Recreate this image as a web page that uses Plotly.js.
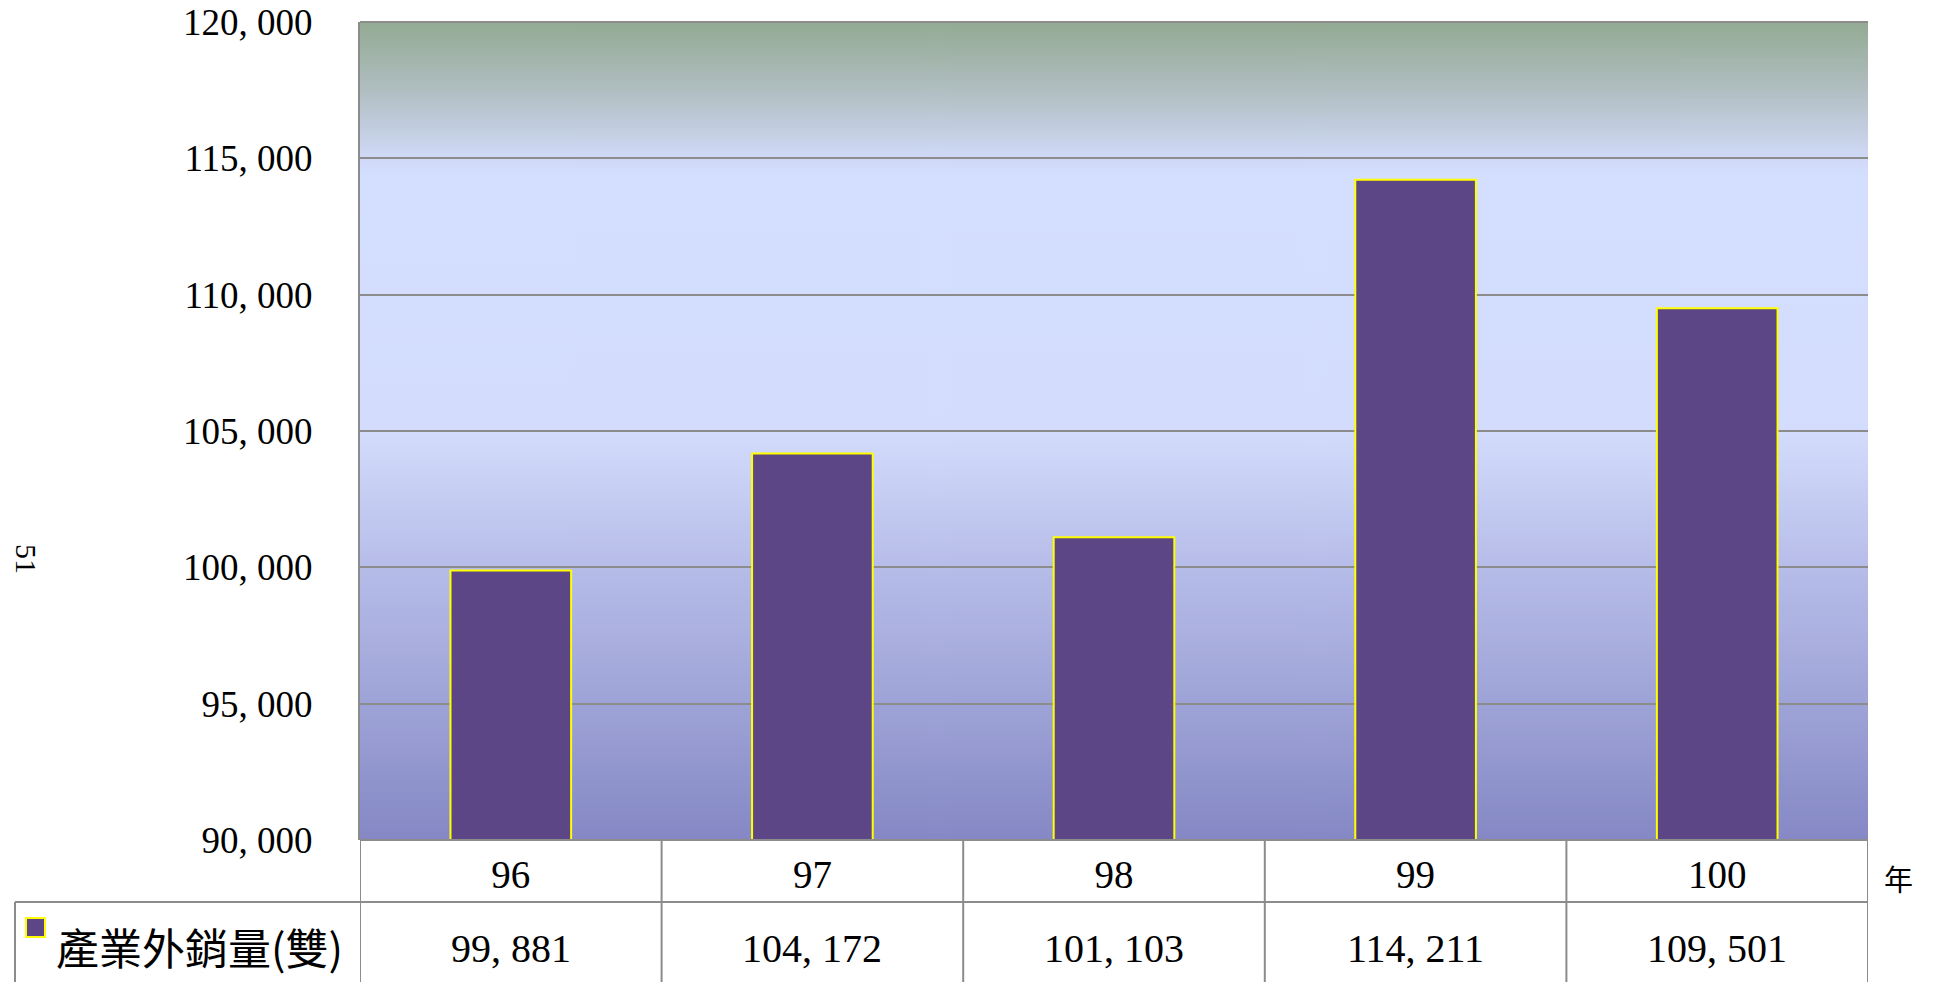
<!DOCTYPE html>
<html>
<head>
<meta charset="utf-8">
<script src="https://cdn.plot.ly/plotly-3.0.1.min.js"></script>
<style>
  html, body { margin: 0; padding: 0; background: #ffffff; }
  #chart { width: 1934px; height: 982px; }
</style>
</head>
<body>
<div id="chart"></div>
<script>
// ---- data ----
const categories = ["96", "97", "98", "99", "100"];
const seriesName = "產業外銷量(雙)";
const exportVolume = [99881, 104172, 101103, 114211, 109501];
const yTickValues = [90000, 95000, 100000, 105000, 110000, 115000, 120000];
const xUnitLabel = "年";
const sideNote = "51";

// ---- helpers ----
function fmt(v) {
  return v.toLocaleString("en-US").replace(/,/g, ", ");
}

// vertical background gradient as an image
function gradientURL() {
  const c = document.createElement("canvas");
  c.width = 4; c.height = 818;
  const g = c.getContext("2d");
  const gr = g.createLinearGradient(0, 0, 0, c.height);
  gr.addColorStop(0.00, "#93AA92");
  gr.addColorStop(0.08, "#AFBDBF");
  gr.addColorStop(0.165, "#CFD9F6");
  gr.addColorStop(0.19, "#D4DEFE");
  gr.addColorStop(0.50, "#D3DCFC");
  gr.addColorStop(0.67, "#B6BCE8");
  gr.addColorStop(0.835, "#9EA3D7");
  gr.addColorStop(1.00, "#8588C4");
  g.fillStyle = gr;
  g.fillRect(0, 0, c.width, c.height);
  return c.toDataURL("image/png");
}

const serif = "Liberation Serif, DejaVu Serif, serif";
const cjk = "Noto Sans CJK TC, Noto Sans CJK SC, sans-serif";
const gray = "#8c8c8c";

// geometry in paper units (plot area 360..1868 x 22..840)
const W = 1508, H = 818, L = 360, B = 840;
const px = x => (x - L) / W;
const py = y => (B - y) / H;

const trace = {
  type: "bar",
  x: categories,
  y: exportVolume,
  name: seriesName,
  marker: { color: "#5D4686", line: { color: "#FFFF00", width: 2 } },
  hoverinfo: "x+y",
  showlegend: false
};

const shapes = [];
// top border
shapes.push({ type: "line", xref: "paper", yref: "paper", x0: 0, x1: 1, y0: 1, y1: 1,
  line: { color: gray, width: 2 } });
// table top line (plot bottom)
shapes.push({ type: "line", xref: "paper", yref: "paper", x0: 0, x1: 1, y0: 0, y1: 0,
  line: { color: gray, width: 2 } });
// row divider
shapes.push({ type: "line", xref: "paper", yref: "paper", x0: px(15), x1: 1, y0: py(902), y1: py(902),
  line: { color: gray, width: 2 } });
// legend cell left border
shapes.push({ type: "line", xref: "paper", yref: "paper", x0: px(15), x1: px(15), y0: py(902), y1: py(984),
  line: { color: gray, width: 2 } });
// column dividers
for (let i = 0; i <= categories.length; i++) {
  shapes.push({ type: "line", xref: "x", yref: "paper", x0: i - 0.5, x1: i - 0.5, y0: 0, y1: py(984),
    line: { color: gray, width: 2 } });
}
// legend swatch
shapes.push({ type: "rect", xref: "paper", yref: "paper", x0: px(26), x1: px(45), y0: py(918), y1: py(937),
  fillcolor: "#5D4686", line: { color: "#FFFF00", width: 2 } });

const annotations = [];
categories.forEach((c, i) => {
  annotations.push({ xref: "x", yref: "paper", x: i, y: py(948), text: fmt(exportVolume[i]),
    showarrow: false, xanchor: "center", yanchor: "middle", font: { family: serif, size: 40, color: "#000" } });
});
annotations.push({ xref: "paper", yref: "paper", x: px(54), y: py(946), text: seriesName,
  showarrow: false, xanchor: "left", yanchor: "middle", font: { family: cjk, size: 43, color: "#000" } });
annotations.push({ xref: "paper", yref: "paper", x: px(1898), y: py(878), text: xUnitLabel,
  showarrow: false, xanchor: "center", yanchor: "middle", font: { family: cjk, size: 29, color: "#000" } });
annotations.push({ xref: "paper", yref: "paper", x: px(27), y: py(559), text: sideNote, textangle: 90,
  showarrow: false, xanchor: "center", yanchor: "middle", font: { family: serif, size: 30, color: "#000" } });

const layout = {
  width: 1934, height: 982,
  margin: { l: 360, r: 66, t: 22, b: 142, pad: 0 },
  paper_bgcolor: "#ffffff",
  plot_bgcolor: "rgba(0,0,0,0)",
  bargap: 0.6,
  showlegend: false,
  xaxis: {
    type: "category", range: [-0.5, 4.5], showgrid: false, zeroline: false, showline: false,
    ticks: "", ticklabelstandoff: 8,
    tickfont: { family: serif, size: 39, color: "#000" }
  },
  yaxis: {
    range: [90000, 120000], tickmode: "array", tickvals: yTickValues, ticktext: yTickValues.map(fmt),
    showgrid: true, gridcolor: gray, gridwidth: 2, zeroline: false,
    showline: true, linecolor: gray, linewidth: 2, ticks: "", ticklabelstandoff: 38,
    tickfont: { family: serif, size: 37, color: "#000" }
  },
  images: [{ source: gradientURL(), xref: "paper", yref: "paper", x: 0, y: 1, sizex: 1, sizey: 1,
    xanchor: "left", yanchor: "top", sizing: "stretch", layer: "below" }],
  shapes: shapes,
  annotations: annotations
};

Plotly.newPlot("chart", [trace], layout, { displayModeBar: false, staticPlot: true });
</script>
</body>
</html>
